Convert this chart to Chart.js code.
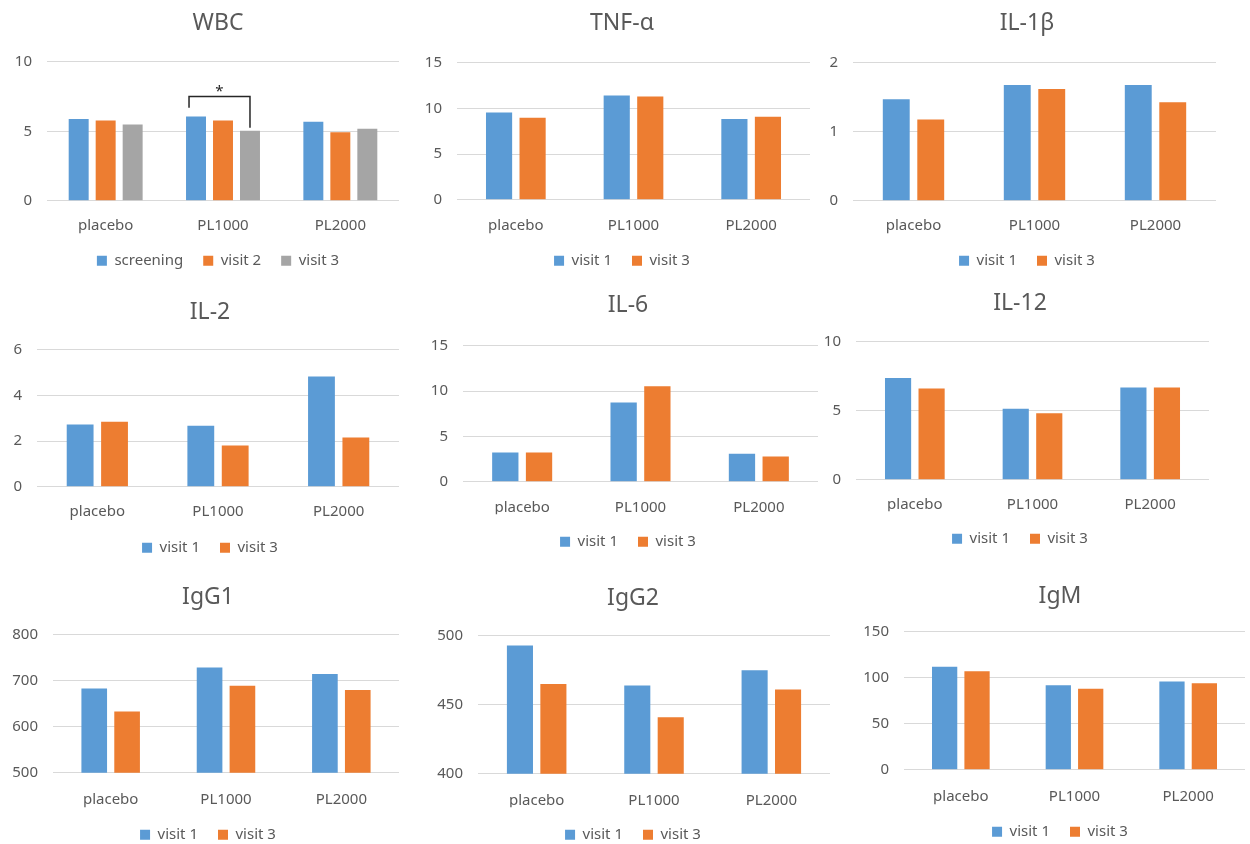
<!DOCTYPE html>
<html>
<head>
<meta charset="utf-8">
<script src="https://cdn.jsdelivr.net/npm/chart.js@4.4.1/dist/chart.umd.min.js"></script>
<style>
html, body { margin: 0; padding: 0; background: #fff; overflow: hidden; }
body { width: 1250px; height: 844px; position: relative; }
.box { position: absolute; }
</style>
</head>
<body>
<script>
const categories = ['placebo', 'PL1000', 'PL2000'];

const wbcScreening = [5.88, 6.06, 5.68];
const wbcVisit2 = [5.78, 5.78, 4.94];
const wbcVisit3 = [5.49, 5.04, 5.18];
const wbcTicks = [0, 5, 10];

const tnfVisit1 = [9.56, 11.42, 8.84];
const tnfVisit3 = [8.98, 11.31, 9.09];
const tnfTicks = [0, 5, 10, 15];

const il1bVisit1 = [1.47, 1.68, 1.68];
const il1bVisit3 = [1.18, 1.62, 1.43];
const il1bTicks = [0, 1, 2];

const il2Visit1 = [2.73, 2.67, 4.83];
const il2Visit3 = [2.85, 1.81, 2.16];
const il2Ticks = [0, 2, 4, 6];

const il6Visit1 = [3.23, 8.75, 3.09];
const il6Visit3 = [3.23, 10.55, 2.79];
const il6Ticks = [0, 5, 10, 15];

const il12Visit1 = [7.37, 5.14, 6.69];
const il12Visit3 = [6.62, 4.83, 6.69];
const il12Ticks = [0, 5, 10];

const igg1Visit1 = [683, 729, 715];
const igg1Visit3 = [633, 689, 680];
const igg1Ticks = [500, 600, 700, 800];

const igg2Visit1 = [493, 464, 475];
const igg2Visit3 = [465, 441, 461];
const igg2Ticks = [400, 450, 500];

const igmVisit1 = [112, 92, 96];
const igmVisit3 = [107, 88, 94];
const igmTicks = [0, 50, 100, 150];

// * between screening and visit 3 in PL1000
const wbcBracket = { category: 1, from: 0, to: 2, top: 7.5, leftEnd: 6.7, rightEnd: 5.25, label: '*' };

const BLUE = '#5B9BD5', ORANGE = '#ED7D31', GRAY = '#A5A5A5';
const TEXT = '#595959', GRID = '#D9D9D9';
const FONT = "'Noto Sans', sans-serif";

// plot area (x0..x1, yTop..yBot), title centre (tx, ty), category label y, legend y
const charts = [
  { title: 'WBC', ticks: wbcTicks, bracket: wbcBracket, three: true,
    series: [['screening', wbcScreening, BLUE], ['visit 2', wbcVisit2, ORANGE], ['visit 3', wbcVisit3, GRAY]],
    geo: { x0: 47, x1: 399, yTop: 62, yBot: 201, tx: 218, ty: 22, ly: 224, gy: 261 } },
  { title: 'TNF-α', ticks: tnfTicks,
    series: [['visit 1', tnfVisit1, BLUE], ['visit 3', tnfVisit3, ORANGE]],
    geo: { x0: 457, x1: 810, yTop: 63, yBot: 200, tx: 622, ty: 22, ly: 224, gy: 261 } },
  { title: 'IL-1β', ticks: il1bTicks,
    series: [['visit 1', il1bVisit1, BLUE], ['visit 3', il1bVisit3, ORANGE]],
    geo: { x0: 853, x1: 1216, yTop: 63, yBot: 201, tx: 1027, ty: 22, ly: 224, gy: 261 } },
  { title: 'IL-2', ticks: il2Ticks,
    series: [['visit 1', il2Visit1, BLUE], ['visit 3', il2Visit3, ORANGE]],
    geo: { x0: 37, x1: 399, yTop: 350, yBot: 487, tx: 210, ty: 311, ly: 510, gy: 548 } },
  { title: 'IL-6', ticks: il6Ticks,
    series: [['visit 1', il6Visit1, BLUE], ['visit 3', il6Visit3, ORANGE]],
    geo: { x0: 463, x1: 818, yTop: 346, yBot: 482, tx: 628, ty: 304, ly: 506, gy: 542 } },
  { title: 'IL-12', ticks: il12Ticks,
    series: [['visit 1', il12Visit1, BLUE], ['visit 3', il12Visit3, ORANGE]],
    geo: { x0: 856, x1: 1209, yTop: 342, yBot: 480, tx: 1020, ty: 302, ly: 503, gy: 539 } },
  { title: 'IgG1', ticks: igg1Ticks,
    series: [['visit 1', igg1Visit1, BLUE], ['visit 3', igg1Visit3, ORANGE]],
    geo: { x0: 53, x1: 399, yTop: 635, yBot: 773, tx: 208, ty: 596, ly: 798, gy: 835 } },
  { title: 'IgG2', ticks: igg2Ticks,
    series: [['visit 1', igg2Visit1, BLUE], ['visit 3', igg2Visit3, ORANGE]],
    geo: { x0: 478, x1: 830, yTop: 636, yBot: 774, tx: 633, ty: 597, ly: 799, gy: 835 } },
  { title: 'IgM', ticks: igmTicks,
    series: [['visit 1', igmVisit1, BLUE], ['visit 3', igmVisit3, ORANGE]],
    geo: { x0: 904, x1: 1245, yTop: 632, yBot: 770, tx: 1060, ty: 595, ly: 795, gy: 832 } }
];

const measure = document.createElement('canvas').getContext('2d');
measure.font = '15px ' + FONT;

function bracketPlugin(b) {
  return {
    id: 'bracket',
    afterDatasetsDraw(chart) {
      const ctx = chart.ctx, y = chart.scales.y;
      const a = chart.getDatasetMeta(b.from).data[b.category];
      const c = chart.getDatasetMeta(b.to).data[b.category];
      const xl = a.x - a.width * 0.35, xr = c.x;
      const yt = y.getPixelForValue(b.top);
      ctx.save();
      ctx.strokeStyle = '#262626';
      ctx.lineWidth = 1.5;
      ctx.beginPath();
      ctx.moveTo(xl, y.getPixelForValue(b.leftEnd));
      ctx.lineTo(xl, yt);
      ctx.lineTo(xr, yt);
      ctx.lineTo(xr, y.getPixelForValue(b.rightEnd));
      ctx.stroke();
      ctx.fillStyle = '#262626';
      ctx.font = '15px ' + FONT;
      ctx.textAlign = 'center';
      ctx.textBaseline = 'alphabetic';
      ctx.fillText(b.label, (xl + xr) / 2, yt - 1);
      ctx.restore();
    }
  };
}

function makeChart(spec) {
  const g = spec.geo;
  const titleLH = 23 * 1.2;
  const legendPad = 20, legendFont = 15;
  const areaLeft = 2 * g.tx - g.x1;          // left edge of the layout area, so title/legend centre on tx
  const left = Math.min(areaLeft, g.x0 - 60);
  const top = g.ty + 2 - titleLH / 2;
  const legendTop = g.gy - legendPad - legendFont / 2;
  const bottom = legendTop + legendFont + legendPad + 10;

  const div = document.createElement('div');
  div.className = 'box';
  div.style.left = left + 'px';
  div.style.top = top + 'px';
  div.style.width = (g.x1 - left) + 'px';
  div.style.height = (bottom - top) + 'px';
  const canvas = document.createElement('canvas');
  div.appendChild(canvas);
  document.body.appendChild(div);

  const t = spec.ticks;
  // y labels are drawn "mirrored" with a negative padding so they sit left of the axis
  // without being clipped to the (narrow) axis box
  const widest = Math.max(...t.map(v => measure.measureText(String(v)).width));

  new Chart(canvas, {
    type: 'bar',
    data: {
      labels: categories,
      datasets: spec.series.map(s => ({
        label: s[0],
        data: s[1],
        backgroundColor: s[2],
        borderWidth: 0,
        barPercentage: spec.three ? 0.74 : 0.78,
        categoryPercentage: spec.three ? 0.69 : 0.57
      }))
    },
    options: {
      responsive: true,
      maintainAspectRatio: false,
      animation: false,
      layout: { padding: { left: areaLeft - left, right: 0, top: 0, bottom: 0 } },
      plugins: {
        title: {
          display: true,
          text: spec.title,
          color: TEXT,
          font: { family: FONT, size: 23, weight: 'normal', lineHeight: 1.2 },
          padding: { top: 0, bottom: g.yTop - top - titleLH }
        },
        legend: {
          position: 'bottom',
          labels: { color: TEXT, font: { family: FONT, size: legendFont }, boxWidth: 10, boxHeight: 10, padding: legendPad }
        },
        tooltip: { enabled: false }
      },
      scales: {
        x: {
          grid: { display: false, drawTicks: false },
          border: { display: true, color: GRID },
          ticks: { color: TEXT, font: { family: FONT, size: 15 }, padding: g.ly - g.yBot - 7 },
          afterFit: s => { s.height = legendTop - g.yBot; }
        },
        y: {
          min: t[0],
          max: t[t.length - 1],
          afterBuildTicks: s => { s.ticks = t.map(v => ({ value: v })); },
          ticks: { color: TEXT, font: { family: FONT, size: 15 }, mirror: true, crossAlign: 'far', padding: -(15 + widest) },
          grid: { color: GRID, drawTicks: false },
          border: { display: false },
          afterFit: s => { s.width = g.x0 - areaLeft; }
        }
      }
    },
    plugins: spec.bracket ? [bracketPlugin(spec.bracket)] : []
  });
}

charts.forEach(makeChart);
</script>
</body>
</html>
